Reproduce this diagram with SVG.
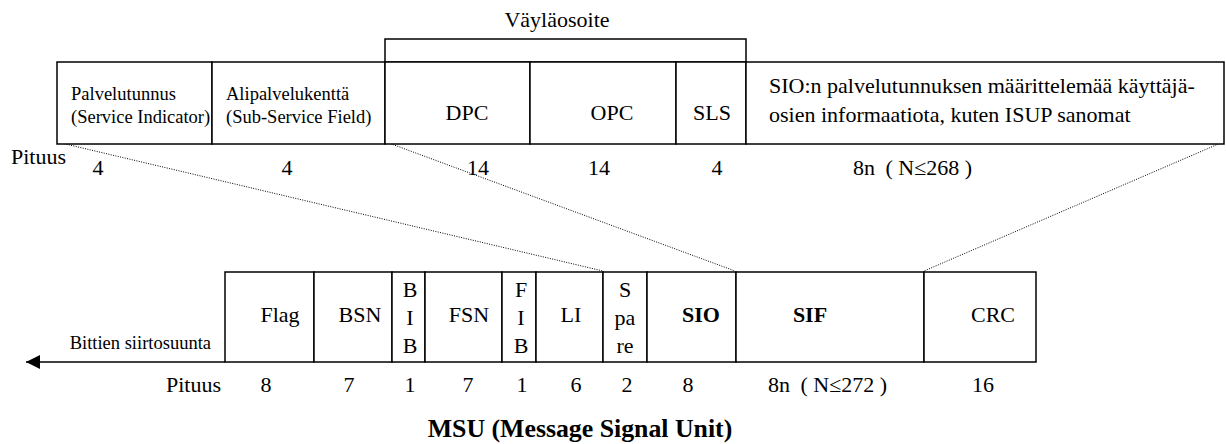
<svg xmlns="http://www.w3.org/2000/svg" width="1226" height="444" viewBox="0 0 1226 444" font-family="'Liberation Serif', Tinos, 'Times New Roman', Times, serif">
  <style>
    .box { fill: #fff; stroke: #000; stroke-width: 1.5; }
    .t { font-family: 'Liberation Serif', Tinos, 'Times New Roman', Times, serif; font-size: 22px; fill: #000; }
    .s { font-size: 18.5px; }
    .b { font-weight: bold; }
    .m { text-anchor: middle; }
    .e { text-anchor: end; }
    .dot { fill: none; stroke: #000; stroke-width: 1; stroke-dasharray: 1 1.4; }
    .axis { fill: none; stroke: #000; stroke-width: 1.5; }
  </style>
  <defs>
    <marker id="arrow" markerUnits="userSpaceOnUse" markerWidth="14" markerHeight="14" refX="14" refY="7" orient="auto">
      <path d="M0,0 L14,7 L0,14 Z" fill="#000"/>
    </marker>
  </defs>

  <!-- connectors: expansion lines from the SIO/SIF fields to the detailed layout -->
  <g id="connectors">
    <line class="dot" x1="57" y1="142" x2="603" y2="271"/>
    <line class="dot" x1="386" y1="142" x2="735" y2="271"/>
    <line class="dot" x1="1223" y1="142" x2="924" y2="271"/>
    <line class="axis" x1="225" y1="362" x2="26" y2="362" marker-end="url(#arrow)"/>
  </g>

  <!-- detailed SIO + SIF layout -->
  <g id="routing-label">
    <rect class="box" x="385" y="39" width="361" height="23"/>
    <text class="t m" x="557" y="27">Väyläosoite</text>
  </g>
  <g id="service-indicator">
    <rect class="box" x="57" y="62" width="155" height="82"/>
    <text class="t s" x="71" y="100">Palvelutunnus</text>
    <text class="t s" x="71" y="123">(Service Indicator)</text>
  </g>
  <g id="sub-service-field">
    <rect class="box" x="212" y="62" width="173" height="82"/>
    <text class="t s" x="226" y="100">Alipalvelukenttä</text>
    <text class="t s" x="226" y="123">(Sub-Service Field)</text>
  </g>
  <g id="dpc">
    <rect class="box" x="385" y="62" width="145" height="82"/>
    <text class="t m" x="467" y="120">DPC</text>
  </g>
  <g id="opc">
    <rect class="box" x="530" y="62" width="146" height="82"/>
    <text class="t m" x="612" y="120">OPC</text>
  </g>
  <g id="sls">
    <rect class="box" x="676" y="62" width="70" height="82"/>
    <text class="t m" x="712" y="120">SLS</text>
  </g>
  <g id="user-info">
    <rect class="box" x="746" y="62" width="478" height="82"/>
    <text class="t" x="769" y="93">SIO:n palvelutunnuksen määrittelemää käyttäjä-</text>
    <text class="t" x="769" y="122">osien informaatiota, kuten ISUP sanomat</text>
  </g>
  <g id="top-lengths">
    <text class="t" x="11" y="164">Pituus</text>
    <text class="t m" x="98" y="175">4</text>
    <text class="t m" x="287" y="175">4</text>
    <text class="t m" x="478" y="175">14</text>
    <text class="t m" x="599" y="175">14</text>
    <text class="t m" x="717" y="175">4</text>
    <text class="t" x="853" y="175">8n <tspan dx="5">( N≤268 )</tspan></text>
  </g>

  <!-- MSU frame -->
  <g id="flag">
    <rect class="box" x="225" y="272" width="89" height="90"/>
    <text class="t m" x="280" y="322">Flag</text>
  </g>
  <g id="bsn">
    <rect class="box" x="314" y="272" width="78" height="90"/>
    <text class="t m" x="360" y="322">BSN</text>
  </g>
  <g id="bib">
    <rect class="box" x="392" y="272" width="33" height="90"/>
    <text class="t m" x="410" y="297">B</text>
    <text class="t m" x="410" y="325">I</text>
    <text class="t m" x="410" y="353">B</text>
  </g>
  <g id="fsn">
    <rect class="box" x="425" y="272" width="77" height="90"/>
    <text class="t m" x="469" y="322">FSN</text>
  </g>
  <g id="fib">
    <rect class="box" x="502" y="272" width="34" height="90"/>
    <text class="t m" x="521" y="297">F</text>
    <text class="t m" x="521" y="325">I</text>
    <text class="t m" x="521" y="353">B</text>
  </g>
  <g id="li">
    <rect class="box" x="536" y="272" width="67" height="90"/>
    <text class="t m" x="571" y="322">LI</text>
  </g>
  <g id="spare">
    <rect class="box" x="603" y="272" width="44" height="90"/>
    <text class="t m" x="625" y="297">S</text>
    <text class="t m" x="625" y="325">pa</text>
    <text class="t m" x="625" y="353">re</text>
  </g>
  <g id="sio">
    <rect class="box" x="647" y="272" width="89" height="90"/>
    <text class="t b m" x="701" y="322">SIO</text>
  </g>
  <g id="sif">
    <rect class="box" x="736" y="272" width="188" height="90"/>
    <text class="t b m" x="810" y="322">SIF</text>
  </g>
  <g id="crc">
    <rect class="box" x="924" y="272" width="112" height="90"/>
    <text class="t m" x="993" y="322">CRC</text>
  </g>
  <g id="direction">
    <text class="t s e" x="211" y="349">Bittien siirtosuunta</text>
  </g>
  <g id="bottom-lengths">
    <text class="t" x="166" y="392">Pituus</text>
    <text class="t m" x="266" y="392">8</text>
    <text class="t m" x="349" y="392">7</text>
    <text class="t m" x="410" y="392">1</text>
    <text class="t m" x="468" y="392">7</text>
    <text class="t m" x="522" y="392">1</text>
    <text class="t m" x="576" y="392">6</text>
    <text class="t m" x="627" y="392">2</text>
    <text class="t m" x="688" y="392">8</text>
    <text class="t" x="768" y="392">8n <tspan dx="5">( N≤272 )</tspan></text>
    <text class="t m" x="983" y="392">16</text>
  </g>
  <g id="title">
    <text class="t b m" x="580" y="437" style="font-size:25.8px">MSU (Message Signal Unit)</text>
  </g>
</svg>
